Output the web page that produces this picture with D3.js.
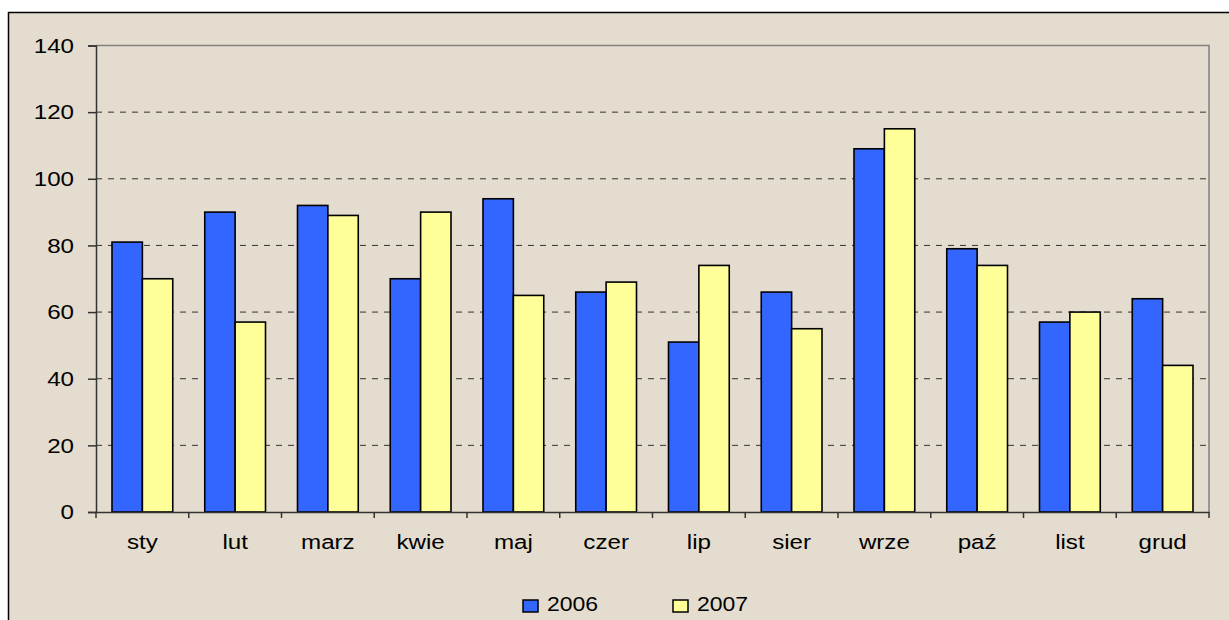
<!DOCTYPE html>
<html>
<head>
<meta charset="utf-8">
<script src="https://d3js.org/d3.v7.min.js"></script>
<style>
 body { margin: 0; background: #fff; }
 svg { display: block; }
</style>
</head>
<body>
<svg width="1229" height="620"></svg>
<script>
 var months = ["sty","lut","marz","kwie","maj","czer","lip","sier","wrze","paź","list","grud"];
 var years = ["2006","2007"];
 var values2006 = [81, 90, 92, 70, 94, 66, 51, 66, 109, 79, 57, 64];
 var values2007 = [70, 57, 89, 90, 65, 69, 74, 55, 115, 74, 60, 44];
 var yTicks = [0, 20, 40, 60, 80, 100, 120, 140];
 var colors = ["#3366FF", "#FFFF99"];

 var svg = d3.select("svg");
 var font = "'Liberation Sans', Arial, sans-serif";
 var stretch = 1.15; // the original text is a bit wider than Arial

 // background + frame
 svg.append("rect").attr("x", 0).attr("y", 0).attr("width", 1229).attr("height", 620).attr("fill", "#fff");
 svg.append("rect").attr("x", 8.5).attr("y", 12.5).attr("width", 1240).attr("height", 620)
    .attr("fill", "#E4DCCE").attr("stroke", "#000").attr("stroke-width", 1.5);

 var plotL = 96, plotR = 1209, plotT = 45.5, plotB = 512;

 var x = d3.scaleBand().domain(months).range([plotL, plotR]).paddingInner(0).paddingOuter(0);
 var y = d3.scaleLinear().domain([0, 140]).range([plotB, plotT]);
 var inner = d3.scaleBand().domain(years).range([16, x.bandwidth() - 16]);

 // gridlines
 svg.append("g").selectAll("line")
    .data(yTicks.filter(function(d) { return d > 0 && d < 140; }))
    .enter().append("line")
    .attr("x1", plotL).attr("x2", plotR)
    .attr("y1", function(d) { return y(d); }).attr("y2", function(d) { return y(d); })
    .attr("stroke", "#333").attr("stroke-width", 1).attr("stroke-dasharray", "6,6");

 // plot border (top & right)
 svg.append("path")
    .attr("d", "M " + plotL + " " + plotT + " L " + plotR + " " + plotT + " L " + plotR + " " + plotB)
    .attr("fill", "none").attr("stroke", "#808080").attr("stroke-width", 1.5);

 // bars
 var series = [values2006, values2007];
 series.forEach(function(vals, si) {
     svg.append("g").selectAll("rect")
        .data(vals)
        .enter().append("rect")
        .attr("x", function(d, i) { return x(months[i]) + inner(years[si]); })
        .attr("y", function(d) { return y(d); })
        .attr("width", inner.bandwidth())
        .attr("height", function(d) { return plotB - y(d); })
        .attr("fill", colors[si])
        .attr("stroke", "#000").attr("stroke-width", 1.6);
 });

 // y axis
 var yAxis = d3.axisLeft(y).tickValues(yTicks).tickSize(8).tickPadding(14);
 var ga = svg.append("g").attr("transform", "translate(" + plotL + ",0)").call(yAxis);
 ga.select(".domain").attr("stroke", "#333").attr("stroke-width", 1.5);
 ga.selectAll(".tick line").attr("stroke", "#333").attr("stroke-width", 1.5);
 ga.selectAll("text").attr("font-family", font).attr("font-size", "21px").attr("fill", "#000")
    .attr("x", -22 / stretch).attr("transform", "scale(" + stretch + ",1)");

 // x axis
 var xAxis = d3.axisBottom(x).tickSize(0).tickPadding(22);
 var gx = svg.append("g").attr("transform", "translate(0," + plotB + ")").call(xAxis);
 gx.select(".domain").attr("stroke", "#333").attr("stroke-width", 1.5);
 gx.selectAll("text").attr("font-family", font).attr("font-size", "21px").attr("fill", "#000")
    .attr("transform", "scale(" + stretch + ",1)");
 // boundary ticks
 gx.append("g").selectAll("line")
    .data([plotL].concat(months.map(function(d) { return x(d) + x.bandwidth(); })))
    .enter().append("line")
    .attr("x1", function(d) { return d; })
    .attr("x2", function(d) { return d; })
    .attr("y1", 0).attr("y2", 6)
    .attr("stroke", "#333").attr("stroke-width", 1.5);

 // legend
 var legendX = [523, 673];
 var lg = svg.append("g");
 years.forEach(function(yr, i) {
     lg.append("rect").attr("x", legendX[i]).attr("y", 600).attr("width", 15).attr("height", 12)
       .attr("fill", colors[i]).attr("stroke", "#000").attr("stroke-width", 1.5);
     lg.append("text").attr("x", (legendX[i] + 24) / stretch).attr("y", 611).text(yr)
       .attr("transform", "scale(" + stretch + ",1)")
       .attr("font-family", font).attr("font-size", "20px").attr("fill", "#000");
 });
</script>
</body>
</html>
